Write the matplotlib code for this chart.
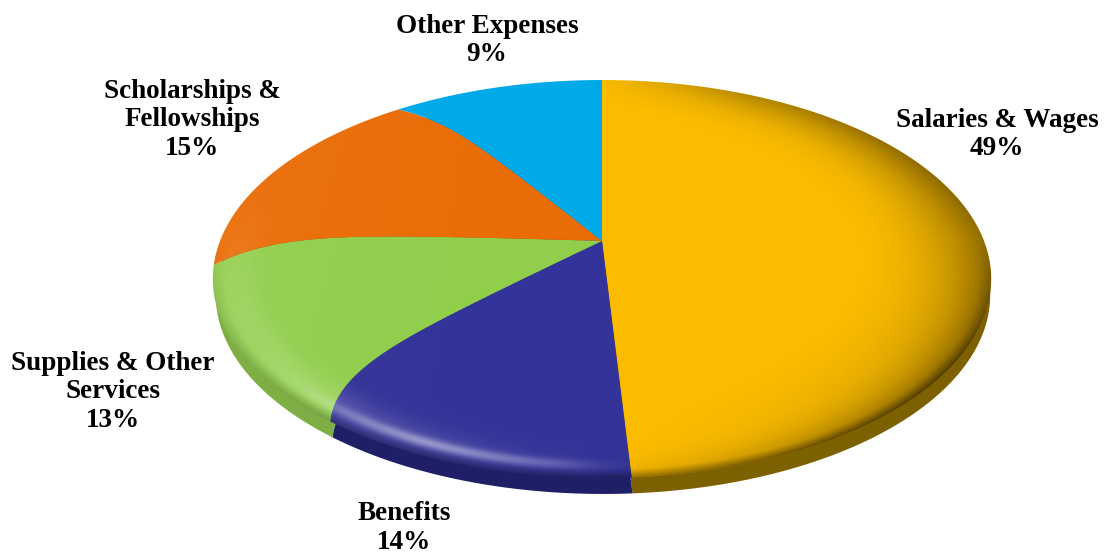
import numpy as np
import matplotlib
matplotlib.use("Agg")
import matplotlib.pyplot as plt
from matplotlib.patches import Circle
from matplotlib.path import Path
from matplotlib.transforms import Transform, Affine2D

categories = ["Salaries & Wages", "Benefits", "Supplies & Other\nServices", "Scholarships &\nFellowships", "Other Expenses"]
percents = [49, 14, 13, 15, 9]
top_colors = ["#FBBC00", "#333399", "#91CE4C", "#EA6C06", "#00A9E8"]
side_colors = ["#7D6000", "#1F1F68", "#7FAE45", "#A04A05", "#007AA8"]
label_xy = [(997, 134.5), (404, 528), (113, 392), (192, 120), (487, 40.5)]

CX, CY = 602.0, 241.0
A, B, K = 191.7, 382.0, 0.191
DEPTH = 16

# the picture's disc is warped: slice edges bend near the rim
twist_at = [176.4, 226.8, 273.6, 327.6, 360.0]
twist_by = [0.0, -9.7, -10.6, -5.5, 0.0]


# keystone for the tilted disc: the pie apex sits above the middle of the ellipse
class Tilt(Transform):
    input_dims = 2
    output_dims = 2

    def transform_non_affine(self, values):
        values = np.asarray(values, dtype=float)
        u, v = values[:, 0], values[:, 1]
        r = np.hypot(u, v)
        theta = np.degrees(np.arctan2(u, v)) % 360
        theta = np.radians(theta + np.interp(theta, twist_at, twist_by) * (0.15 * r + 0.85 * r ** 6))
        u, v = r * np.sin(theta), r * np.cos(theta)
        w = 1 + K * v
        return np.column_stack((CX + B * u / w, CY - A * v / w))

    def transform_path_non_affine(self, path):
        # flatten and split long edges so they can bend
        scaled = Path(path.vertices * 2000, path.codes)
        points = []
        for poly in scaled.to_polygons(closed_only=False):
            poly = poly / 2000
            for p, q in zip(poly[:-1], poly[1:]):
                n = max(1, int(np.hypot(*(q - p)) / 0.02))
                points.append(p + (q - p) * np.arange(n)[:, None] / n)
            points.append(poly[-1:])
        return Path(self.transform_non_affine(np.concatenate(points)))


fig = plt.figure(figsize=(11.04, 5.56), dpi=100)
ax = fig.add_axes([0, 0, 1, 1])

tilt = Tilt()

side, _ = ax.pie(percents, colors=side_colors, startangle=90, counterclock=False, radius=1)
side_shift = Affine2D().translate(-CX, 0).scale(0.995, 1).translate(CX + 1, DEPTH)
for w in side:
    w.set_transform(tilt + side_shift + ax.transData)

top, _ = ax.pie(percents, colors=top_colors, startangle=90, counterclock=False, radius=1)
for w in top:
    w.set_transform(tilt + ax.transData)

# soft shading on the disc, light coming from the lower left
px, py = np.meshgrid(np.arange(0, 1104) + 0.5, np.arange(0, 556) + 0.5)
yy = (CY - py) / A
v = yy / (1 - K * yy)
u = (px - CX) * (1 + K * v) / B
r = np.sqrt(u ** 2 + v ** 2)
nx, ny = u / np.maximum(r, 1e-6), v / np.maximum(r, 1e-6)

right = np.clip(nx, 0, 1) ** 1.5 * 0.42 * np.clip((r - 0.6) / 0.4, 0, 1) ** 2.5
upper = np.clip(ny, 0, 1) * np.clip(nx * 2 + 0.1, 0, 1) * 0.18 * np.clip((r - 0.75) / 0.25, 0, 1) ** 2
lower = np.clip(-ny, 0, 1) * np.clip(nx + 0.2, 0, 1) * 0.35 * np.clip((r - 0.85) / 0.15, 0, 1) ** 2.5
rim = np.clip(-ny, 0, 1) * 0.3 * np.clip((r - 0.97) / 0.03, 0, 1)
dark_a = np.clip(right + upper + lower + rim, 0, 1)

facing = np.clip(nx * -0.5 + ny * -0.87, 0, 1)
band = np.exp(-((r - 0.955) / 0.018) ** 2)
blue_part = np.clip((nx + 0.85) / 0.45, 0, 1) * np.clip((0.1 - nx) / 0.2, 0, 1)
soft = np.clip(-nx, 0, 1) * np.clip(-ny + 0.2, 0, 1) * np.exp(-((r - 0.94) / 0.05) ** 2)
light_a = 0.42 * facing ** 8 * band * blue_part + 0.2 * soft + 0.05 * np.clip(-u, 0, 1) ** 2

shade = np.zeros(r.shape + (4,))
shade[..., :3] = (light_a / np.maximum(light_a + dark_a, 1e-6))[..., None]
shade[..., 3] = np.clip(dark_a + light_a, 0, 1)
im = ax.imshow(shade, extent=(0, 1104, 556, 0), interpolation="bilinear", zorder=3)
im.set_clip_path(Circle((0, 0), 1, transform=tilt + ax.transData))

for name, pct, (x, y) in zip(categories, percents, label_xy):
    ax.text(x, y, "%s\n%d%%" % (name, pct), ha="center", va="center", family="Liberation Serif",
            weight="bold", fontsize=19.5, color="black", linespacing=1.18, zorder=5)

ax.set_aspect("auto")
ax.set_xlim(0, 1104)
ax.set_ylim(556, 0)
ax.axis("off")
fig.savefig("out.png", dpi=100, facecolor="white")
